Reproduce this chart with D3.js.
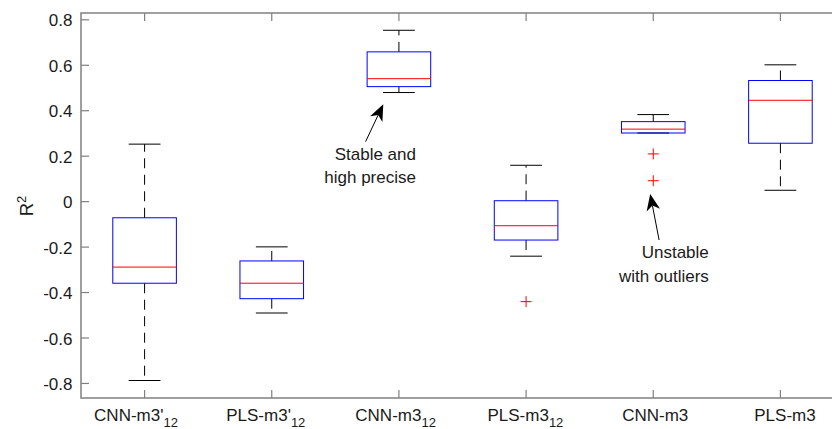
<!DOCTYPE html>
<html>
<head>
<meta charset="utf-8">
<script src="https://cdn.jsdelivr.net/npm/d3@7"></script>
<style>
  html, body { margin: 0; padding: 0; background: #fff; }
  svg { display: block; }
  text { font-family: "Liberation Sans", Arial, Helvetica, sans-serif; fill: #1a1a1a; }
</style>
</head>
<body>
<svg id="chart" width="832" height="429"></svg>
<script>
// ---- data ----
const categories = ["CNN-m3'", "PLS-m3'", "CNN-m3", "PLS-m3", "CNN-m3", "PLS-m3"];
const subscripts = ["12", "12", "12", "12", "", ""];
const upperWhisker = [0.253, -0.199, 0.754, 0.160, 0.383, 0.602];
const q3Values     = [-0.071, -0.261, 0.659, 0.004, 0.352, 0.533];
const medians      = [-0.288, -0.359, 0.541, -0.106, 0.319, 0.446];
const q1Values     = [-0.359, -0.427, 0.506, -0.169, 0.302, 0.257];
const lowerWhisker = [-0.787, -0.490, 0.480, -0.240, 0.302, 0.050];
const outliers     = [[], [], [], [-0.44], [0.210, 0.092], []];
const yTicks = [-0.8, -0.6, -0.4, -0.2, 0, 0.2, 0.4, 0.6, 0.8];
const yTickLabels = ["-0.8", "-0.6", "-0.4", "-0.2", "0", "0.2", "0.4", "0.6", "0.8"];
const annotations = [
  { lines: ["Stable and", "high precise"], textX: 3.134, textY: [0.183, 0.082],
    tail: [2.738, 0.264], tip: [2.877, 0.429] },
  { lines: ["Unstable", "with outliers"], textX: 5.437, textY: [-0.249, -0.355],
    tail: [5.046, -0.169], tip: [4.976, 0.034] }
];

// ---- layout ----
const L = 81, R = 844, T = 13, B = 398;
const svg = d3.select("#chart");
const x = d3.scaleLinear().domain([0.5, 6.5]).range([L, R]);
const y = d3.scaleLinear().domain([-0.864, 0.83]).range([B, T]);
const xLabel = d3.scaleLinear().domain([1, 6]).range([136, 785]);
const idx = d3.range(1, categories.length + 1);
const axisColor = "#808080";
const tickLen = 8;

const boxes = idx.map((p, i) => ({
  p, uw: upperWhisker[i], q3: q3Values[i], med: medians[i], q1: q1Values[i], lw: lowerWhisker[i], out: outliers[i]
}));

// whiskers
const g = svg.append("g");
const bw = 0.25; // half box width in data units
const cw = 0.125; // half cap width
boxes.forEach(d => {
  g.append("line").attr("x1", x(d.p)).attr("x2", x(d.p))
    .attr("y1", y(d.q3)).attr("y2", y(d.uw))
    .attr("stroke", "#000").attr("stroke-width", 1).attr("stroke-dasharray", "10,6.5");
  g.append("line").attr("x1", x(d.p)).attr("x2", x(d.p))
    .attr("y1", y(d.q1)).attr("y2", y(d.lw))
    .attr("stroke", "#000").attr("stroke-width", 1).attr("stroke-dasharray", "10,6.5");
  [d.uw, d.lw].forEach(v => {
    g.append("line").attr("x1", x(d.p - cw)).attr("x2", x(d.p + cw))
      .attr("y1", y(v)).attr("y2", y(v))
      .attr("stroke", "#000").attr("stroke-width", 1);
  });
  g.append("rect").attr("x", x(d.p - bw)).attr("width", x(d.p + bw) - x(d.p - bw))
    .attr("y", y(d.q3)).attr("height", y(d.q1) - y(d.q3))
    .attr("fill", "none").attr("stroke", "#0000ff").attr("stroke-width", 1);
  g.append("line").attr("x1", x(d.p - bw)).attr("x2", x(d.p + bw))
    .attr("y1", y(d.med)).attr("y2", y(d.med))
    .attr("stroke", "#ff0000").attr("stroke-width", 1);
  d.out.forEach(v => {
    const cx = x(d.p), cy = y(v), s = 5.5;
    g.append("path").attr("d", `M${cx - s},${cy}H${cx + s}M${cx},${cy - s}V${cy + s}`)
      .attr("stroke", "#ff0000").attr("stroke-width", 1).attr("fill", "none");
  });
});

// axes frame
const ax = svg.append("g").attr("stroke", axisColor).attr("stroke-width", 1.5).attr("fill", "none");
ax.append("path").attr("d", `M${L},${T}V${B}H${R}V${T}Z`);
yTicks.forEach(v => {
  ax.append("line").attr("x1", L).attr("x2", L + tickLen).attr("y1", y(v)).attr("y2", y(v)).attr("stroke-width", 1.2);
  ax.append("line").attr("x1", R).attr("x2", R - tickLen).attr("y1", y(v)).attr("y2", y(v)).attr("stroke-width", 1.2);
});
idx.forEach(p => {
  ax.append("line").attr("x1", x(p)).attr("x2", x(p)).attr("y1", B).attr("y2", B - tickLen).attr("stroke-width", 1.2);
  ax.append("line").attr("x1", x(p)).attr("x2", x(p)).attr("y1", T).attr("y2", T + tickLen).attr("stroke-width", 1.2);
});

// y tick labels
svg.append("g").selectAll("text").data(yTicks).join("text")
  .attr("x", L - 8.5).attr("y", d => y(d) + 6.5)
  .attr("text-anchor", "end").attr("font-size", 17)
  .text((d, i) => yTickLabels[i]);

// x tick labels
idx.forEach((p, i) => {
  const t = svg.append("text").attr("x", xLabel(p)).attr("y", 420.5)
    .attr("text-anchor", "middle").attr("font-size", 17);
  t.append("tspan").text(categories[i]);
  if (subscripts[i]) t.append("tspan").attr("dy", 6.5).attr("font-size", 13).text(subscripts[i]);
});

// y axis label
const yl = svg.append("text").attr("transform", "translate(32.5,206) rotate(-90)")
  .attr("text-anchor", "middle").attr("font-size", 18.5);
yl.append("tspan").text("R");
yl.append("tspan").attr("dy", -7).attr("font-size", 13).text("2");

// annotations
annotations.forEach(a => {
  a.lines.forEach((ln, j) => {
    svg.append("text").attr("x", x(a.textX)).attr("y", y(a.textY[j]))
      .attr("text-anchor", "end").attr("font-size", 17).text(ln);
  });
  const tx = x(a.tail[0]), ty = y(a.tail[1]);
  const px = x(a.tip[0]), py = y(a.tip[1]);
  const dx = px - tx, dy = py - ty, len = Math.hypot(dx, dy);
  const ux = dx / len, uy = dy / len, nx = -uy, ny = ux;
  const HL = 16.5, HW = 6.8;
  const bx = px - ux * HL, by = py - uy * HL;
  const kx = px - ux * HL * 0.72, ky = py - uy * HL * 0.72;
  svg.append("line").attr("x1", tx).attr("y1", ty).attr("x2", kx).attr("y2", ky)
    .attr("stroke", "#000").attr("stroke-width", 1);
  svg.append("path")
    .attr("d", `M${px},${py}L${bx + nx * HW},${by + ny * HW}L${kx},${ky}L${bx - nx * HW},${by - ny * HW}Z`)
    .attr("fill", "#000");
});
</script>
</body>
</html>
